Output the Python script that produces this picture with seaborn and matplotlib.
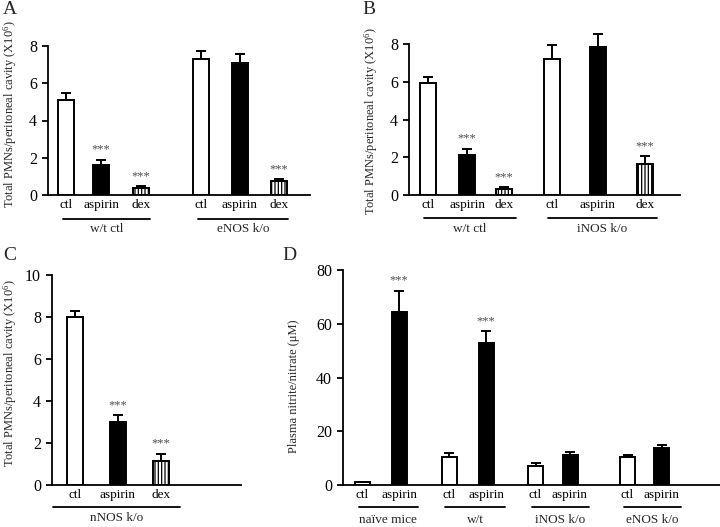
import numpy as np
import pandas as pd
import matplotlib
matplotlib.use("Agg")
import matplotlib.pyplot as plt
import seaborn as sns
from matplotlib.transforms import blended_transform_factory

# ---------------- data ----------------
treat_abc = ["ctl", "aspirin", "dex"]

A_groups = ["w/t ctl", "eNOS k/o"]
A_mean = [5.1, 1.6, 0.4, 7.3, 7.1, 0.75]
A_err = [0.38, 0.28, 0.08, 0.45, 0.45, 0.1]
A_sig = ["", "***", "***", "", "", "***"]

B_groups = ["w/t ctl", "iNOS k/o"]
B_mean = [5.95, 2.13, 0.32, 7.23, 7.84, 1.64]
B_err = [0.3, 0.33, 0.08, 0.7, 0.69, 0.4]
B_sig = ["", "***", "***", "", "", "***"]

C_groups = ["nNOS k/o"]
C_mean = [8.0, 3.0, 1.16]
C_err = [0.3, 0.32, 0.32]
C_sig = ["", "***", "***"]

treat_d = ["ctl", "aspirin"]
D_groups = ["naïve mice", "w/t", "iNOS k/o", "eNOS k/o"]
D_mean = [1.0, 64.5, 10.5, 52.7, 7.1, 11.2, 10.5, 13.6]
D_err = [0.2, 7.8, 1.3, 4.6, 1.2, 1.0, 0.7, 1.3]
D_sig = ["", "***", "", "***", "", "", "", ""]

pmn_label = "Total PMNs/peritoneal cavity (X10$\\mathregular{^{6}}$)"
no_label = "Plasma nitrite/nitrate (μM)"

# ---------------- style ----------------
sns.set_theme(style="ticks")
plt.rcParams["font.family"] = ["Liberation Serif", "DejaVu Serif"]
plt.rcParams["mathtext.fontset"] = "custom"
plt.rcParams["mathtext.rm"] = "Liberation Serif"
plt.rcParams["mathtext.it"] = "Liberation Serif:italic"
plt.rcParams["hatch.linewidth"] = 0.9
plt.rcParams["hatch.color"] = "black"

palette_all = {"ctl": "white", "aspirin": "black", "dex": "white"}

FIG_W, FIG_H = 720, 527
fig = plt.figure(figsize=(FIG_W / 100, FIG_H / 100), dpi=100)
fig.patch.set_facecolor("white")


def add_axes_px(left, top, right, bottom):
    return fig.add_axes([left / FIG_W, 1 - bottom / FIG_H,
                         (right - left) / FIG_W, (bottom - top) / FIG_H])


def draw_panel(box, xs, bar_w, means, errs, sig, treats, groups, ymax, ystep,
               pads, dy_line, dy_label, ylabel, ylabel_xy, letter, letter_xy):
    left, top, right, bottom = box
    ax = add_axes_px(*box)
    h_px = bottom - top
    tr = list(treats) * len(groups)
    df = pd.DataFrame({"x": xs, "value": means, "treatment": tr})
    spacing = float(np.min(np.diff(sorted(xs))))
    sns.barplot(data=df, x="x", y="value", hue="treatment",
                palette={t: palette_all[t] for t in treats},
                native_scale=True, dodge=False, width=bar_w / spacing,
                edgecolor="black", linewidth=1.4, saturation=1,
                errorbar=None, legend=False, ax=ax)
    dex_x = [x for x, t in zip(xs, tr) if t == "dex"]
    for p in ax.patches:
        cx = p.get_x() + p.get_width() / 2
        if any(abs(cx - d) < 1 for d in dex_x):
            p.set_hatch("|||||")
    eb = ax.errorbar(xs, means, yerr=[np.zeros(len(errs)), errs], fmt="none",
                     ecolor="black", elinewidth=1.4, capsize=3.3, capthick=1.4,
                     zorder=3)
    for child in eb.get_children():
        child.set_clip_on(False)
    for x, m, e, s in zip(xs, means, errs, sig):
        if s:
            ax.annotate(s, (x, m + e), xytext=(0, 3), textcoords="offset points",
                        ha="center", va="bottom", fontsize=9, color="#4d4d4d",
                        annotation_clip=False)
    ax.set_xlim(left, right)
    ax.set_ylim(0, ymax)
    ax.set_yticks(np.arange(0, ymax + 0.01, ystep))
    ax.set_xticks(xs)
    ax.set_xticklabels(tr)
    ax.set_xlabel("")
    ax.set_ylabel("")
    ax.tick_params(axis="x", length=0, labelsize=9.5, pad=3, colors="black")
    ax.tick_params(axis="y", length=4, width=1.3, labelsize=11.5, pad=4,
                   direction="out", colors="black")
    for sp in ["top", "right"]:
        ax.spines[sp].set_visible(False)
    for sp in ["left", "bottom"]:
        ax.spines[sp].set_linewidth(1.3)
        ax.spines[sp].set_color("black")
    ax.set_facecolor("none")
    trans = blended_transform_factory(ax.transData, ax.transAxes)
    n_t = len(treats)
    for gi, g in enumerate(groups):
        gx = xs[gi * n_t:(gi + 1) * n_t]
        x0, x1 = gx[0] - pads[0], gx[-1] + pads[1]
        ax.plot([x0, x1], [-dy_line / h_px] * 2, color="black", lw=1.3,
                transform=trans, clip_on=False)
        ax.text((x0 + x1) / 2, -dy_label / h_px, g, transform=trans,
                ha="center", va="center", fontsize=9.5)
    fig.text(ylabel_xy[0] / FIG_W, 1 - ylabel_xy[1] / FIG_H, ylabel,
             rotation=90, ha="center", va="center", fontsize=9)
    fig.text(letter_xy[0] / FIG_W, 1 - letter_xy[1] / FIG_H, letter,
             ha="left", va="top", fontsize=14)
    return ax


# ---------------- layout (pixels) ----------------
draw_panel((48, 46, 310, 195), [66, 101, 141, 201, 240, 279], 16,
           A_mean, A_err, A_sig, treat_abc, A_groups, 8, 2,
           (3, 9), 24, 34, pmn_label, (10, 114), "A", (3, 1))
draw_panel((409, 44, 680, 195), [428, 467, 504, 552, 598, 645], 16.5,
           B_mean, B_err, B_sig, treat_abc, B_groups, 8, 2,
           (4, 12), 23, 34, pmn_label, (371, 121), "B", (362, 1))
draw_panel((52, 275, 241, 485), [75, 118, 161], 16,
           C_mean, C_err, C_sig, treat_abc, C_groups, 10, 2,
           (22, 19), 22, 33, pmn_label, (10, 373), "C", (3, 247))
draw_panel((343, 270, 720, 485), [362.5, 399, 449, 486, 535.5, 570, 627.5, 661.5], 15,
           D_mean, D_err, D_sig, treat_d, D_groups, 80, 20,
           (4, 19), 22, 35, no_label, (294, 386), "D", (282, 247))

fig.savefig("out.png", dpi=100, facecolor="white")
